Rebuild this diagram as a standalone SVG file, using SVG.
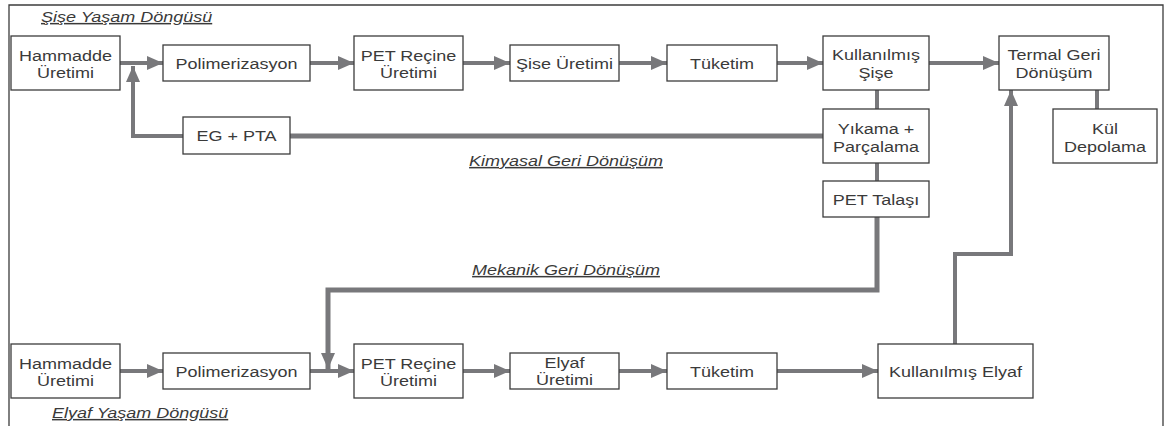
<svg xmlns="http://www.w3.org/2000/svg" width="1167" height="426" viewBox="0 0 1167 426">
<style>
.bx{fill:#fff;stroke:#3c3c3c;stroke-width:1.3}
.t{font-family:"Liberation Sans",Arial,sans-serif;font-size:15px;fill:#3a3a3a;text-anchor:middle}
.h{font-family:"Liberation Sans",Arial,sans-serif;font-size:15px;fill:#3a3a3a;font-style:italic;text-decoration:underline}
.c{fill:none;stroke:#78787b;stroke-width:4}
.cw{fill:none;stroke:#78787b;stroke-width:5}
.a{marker-end:url(#ah)}
</style>
<defs>
<marker id="ah" viewBox="0 0 16 14" refX="16" refY="7" markerWidth="16" markerHeight="14" markerUnits="userSpaceOnUse" orient="auto">
<path d="M0,0 L16,7 L0,14 z" fill="#78787b"/>
</marker>
</defs>
<rect width="1167" height="426" fill="#fff"/>
<path d="M9,426 V5 H1163 V426" fill="none" stroke="#3c3c3c" stroke-width="1.3"/>

<g id="labels">
<text class="h" transform="translate(41,22) scale(1.2,1)">Şişe Yaşam Döngüsü</text>
<text class="h" text-anchor="middle" transform="translate(566,166) scale(1.2,1)">Kimyasal Geri Dönüşüm</text>
<text class="h" text-anchor="middle" transform="translate(566,275) scale(1.2,1)">Mekanik Geri Dönüşüm</text>
<text class="h" transform="translate(52,418) scale(1.2,1)">Elyaf Yaşam Döngüsü</text>
</g>

<g id="connectors">
<path class="c a" d="M120,63 H163"/>
<path class="c a" d="M310,63 H354"/>
<path class="c a" d="M463,63 H510"/>
<path class="c a" d="M619,63 H667"/>
<path class="c a" d="M777,63 H823"/>
<path class="c a" d="M929,63 H999"/>
<path class="c a" d="M183,136 H133 V66"/>
<path class="cw" d="M290,136 H823"/>
<path class="c" d="M877,90 V109"/>
<path class="c" d="M877,163 V181"/>
<path class="c" d="M1097,90 V109"/>
<path class="cw a" d="M877,217 V290 H328 V369"/>
<path class="c a" d="M955,344 V254 H1011 V90"/>
<path class="c a" d="M120,371 H163"/>
<path class="c a" d="M310,371 H354"/>
<path class="c a" d="M463,371 H510"/>
<path class="c a" d="M619,371 H667"/>
<path class="c a" d="M777,371 H878"/>
</g>

<g id="n-hammadde1"><rect class="bx" x="11" y="36" width="109" height="54"/>
<text class="t" transform="translate(65.5,61) scale(1.2,1)">Hammadde</text>
<text class="t" transform="translate(65.5,78) scale(1.2,1)">Üretimi</text></g>
<g id="n-polimer1"><rect class="bx" x="163" y="45" width="147" height="36"/>
<text class="t" transform="translate(236.5,68.5) scale(1.2,1)">Polimerizasyon</text></g>
<g id="n-pet1"><rect class="bx" x="354" y="36" width="109" height="54"/>
<text class="t" transform="translate(408.5,61) scale(1.2,1)">PET Reçine</text>
<text class="t" transform="translate(408.5,78) scale(1.2,1)">Üretimi</text></g>
<g id="n-sise"><rect class="bx" x="510" y="45" width="109" height="36"/>
<text class="t" transform="translate(564.5,68.5) scale(1.2,1)">Şise Üretimi</text></g>
<g id="n-tuketim1"><rect class="bx" x="667" y="45" width="110" height="36"/>
<text class="t" transform="translate(722,68.5) scale(1.2,1)">Tüketim</text></g>
<g id="n-kullanilmis-sise"><rect class="bx" x="823" y="36" width="106" height="54"/>
<text class="t" transform="translate(876,60) scale(1.2,1)">Kullanılmış</text>
<text class="t" transform="translate(876,78) scale(1.2,1)">Şişe</text></g>
<g id="n-termal"><rect class="bx" x="999" y="36" width="110" height="54"/>
<text class="t" transform="translate(1054,60) scale(1.2,1)">Termal Geri</text>
<text class="t" transform="translate(1054,78) scale(1.2,1)">Dönüşüm</text></g>
<g id="n-kul"><rect class="bx" x="1053" y="109" width="104" height="54"/>
<text class="t" transform="translate(1105,134) scale(1.2,1)">Kül</text>
<text class="t" transform="translate(1105,152) scale(1.2,1)">Depolama</text></g>
<g id="n-yikama"><rect class="bx" x="823" y="109" width="106" height="54"/>
<text class="t" transform="translate(876,134) scale(1.2,1)">Yıkama +</text>
<text class="t" transform="translate(876,152) scale(1.2,1)">Parçalama</text></g>
<g id="n-talas"><rect class="bx" x="823" y="181" width="106" height="36"/>
<text class="t" transform="translate(876,204.5) scale(1.2,1)">PET Talaşı</text></g>
<g id="n-egpta"><rect class="bx" x="183" y="117" width="107" height="37"/>
<text class="t" transform="translate(236.5,141) scale(1.2,1)">EG + PTA</text></g>

<g id="n-hammadde2"><rect class="bx" x="11" y="344" width="109" height="54"/>
<text class="t" transform="translate(65.5,369) scale(1.2,1)">Hammadde</text>
<text class="t" transform="translate(65.5,386) scale(1.2,1)">Üretimi</text></g>
<g id="n-polimer2"><rect class="bx" x="163" y="353" width="147" height="36"/>
<text class="t" transform="translate(236.5,376.5) scale(1.2,1)">Polimerizasyon</text></g>
<g id="n-pet2"><rect class="bx" x="354" y="344" width="109" height="54"/>
<text class="t" transform="translate(408.5,369) scale(1.2,1)">PET Reçine</text>
<text class="t" transform="translate(408.5,386) scale(1.2,1)">Üretimi</text></g>
<g id="n-elyaf"><rect class="bx" x="510" y="353" width="109" height="36"/>
<text class="t" transform="translate(564.5,368) scale(1.2,1)">Elyaf</text>
<text class="t" transform="translate(564.5,385) scale(1.2,1)">Üretimi</text></g>
<g id="n-tuketim2"><rect class="bx" x="667" y="353" width="110" height="36"/>
<text class="t" transform="translate(722,376.5) scale(1.2,1)">Tüketim</text></g>
<g id="n-kullanilmis-elyaf"><rect class="bx" x="878" y="344" width="155" height="54"/>
<text class="t" transform="translate(955.5,376.5) scale(1.2,1)">Kullanılmış Elyaf</text></g>
</svg>
